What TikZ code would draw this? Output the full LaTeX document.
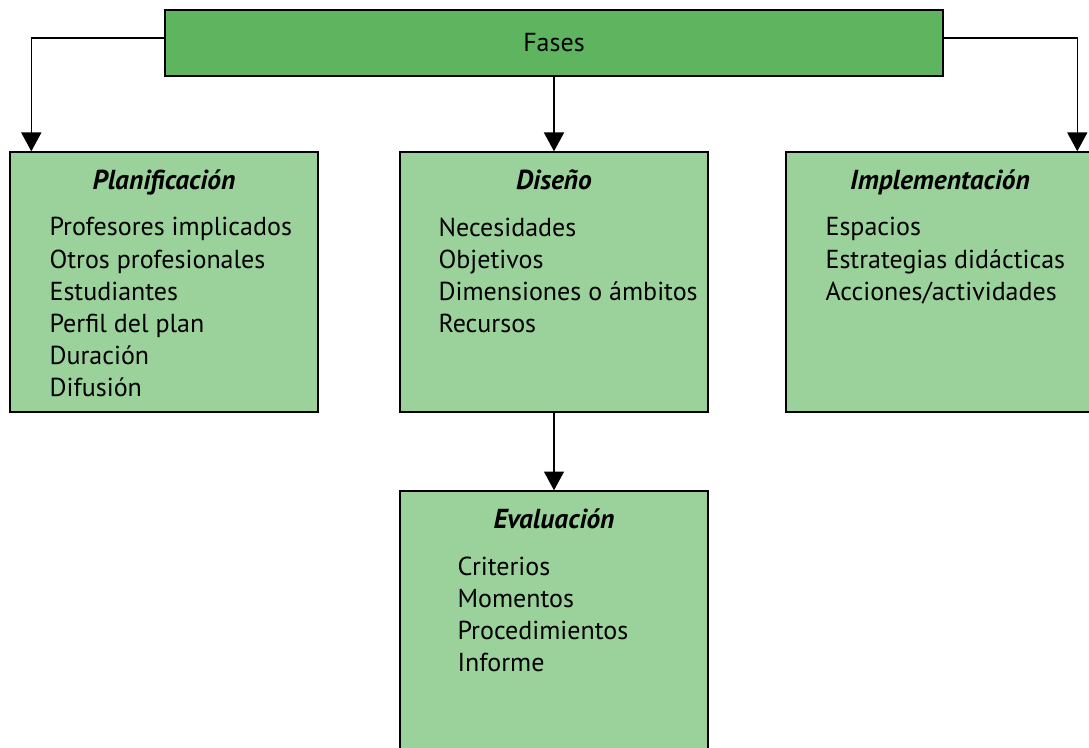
\documentclass[tikz,border=0pt]{standalone}
\usepackage{fontspec}
\setmainfont{PT Sans}                 % police sans empattement
\usepackage{tikz}
\usetikzlibrary{calc,                 % Calculs de coordonnées
           positioning,               % placement relatif
           arrows.meta}               % pointes de flèches
\definecolor{verdeF}{RGB}{95,180,96}
\definecolor{verdeC}{RGB}{155,209,154}

\tikzset{
  fase/.style={draw=black,line width=2pt,fill=verdeF,minimum width=19.45cm,minimum height=1.65cm,
               font=\fontsize{18.5}{22}\selectfont},
  caja/.style={draw=black,line width=1pt,fill=verdeC,minimum width=7.7cm,minimum height=6.5cm},
  titulo/.style={inner sep=0pt,font=\fontsize{19.5}{23}\selectfont\bfseries\itshape},
  lista/.style={inner sep=0pt,align=left,font=\fontsize{18.5}{22.8}\selectfont},
  flecha/.style={line width=1pt,-{Triangle[length=0.47cm,width=0.5cm]}}
}

\begin{document}
\begin{tikzpicture}
\useasboundingbox (0,0) rectangle (27.225,-18.675);
\node[fase](fases)at(13.85,-1.075){Fases};
\node[caja](plan)at(4.1,-7.05){};
\node[caja](dis)at(13.85,-7.05){};
\node[caja](impl)at(23.5,-7.05){};
\node[caja](eval)at(13.85,-15.525){};
\node[titulo,below=0.45cm of plan.north]{Planificación};
\node[titulo,below=0.45cm of dis.north]{Diseño};
\node[titulo,below=0.45cm of impl.north]{Implementación};
\node[titulo,below=0.45cm of eval.north]{Evaluación};
\node[lista,below right=1.65cm and 1cm of plan.north west]{Profesores implicados\\Otros profesionales\\Estudiantes\\Perfil del plan\\Duración\\Difusión};
\node[lista,below right=1.65cm and 0.975cm of dis.north west]{Necesidades\\Objetivos\\Dimensiones o ámbitos\\Recursos};
\node[lista,below right=1.65cm and 1cm of impl.north west]{Espacios\\Estrategias didácticas\\Acciones/actividades};
\node[lista,below right=1.65cm and 1.45cm of eval.north west]{Criterios\\Momentos\\Procedimientos\\Informe};
\draw[flecha]($(fases.west)+(0,0.125)$)-|($(plan.north west)+(0.55,0)$);
\draw[flecha]($(fases.east)+(0,0.125)$)-|($(impl.north west)+(7.3,0)$);
\draw[flecha](fases.south)--(dis.north);
\draw[flecha](dis.south)--(eval.north);
\end{tikzpicture}
\end{document}
